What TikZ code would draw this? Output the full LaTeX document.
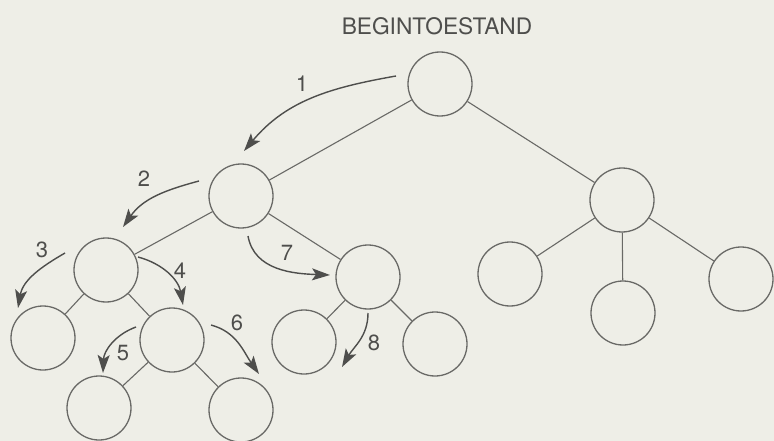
\documentclass[tikz,border=0pt]{standalone}
\usepackage{fontspec}
\setmainfont{TeX Gyre Heros}
\usetikzlibrary{arrows.meta}
\definecolor{paper}{RGB}{238,238,231}
\definecolor{ink}{RGB}{105,105,102}
\definecolor{darkink}{RGB}{78,78,76}
\begin{document}
\begin{tikzpicture}[x=1pt,y=1pt,
  state/.style={circle,draw=ink,line width=1.3pt,minimum size=64pt,inner sep=0pt},
  edge/.style={draw=ink,line width=1.1pt},
  move/.style={draw=darkink,line width=1.4pt,-{Stealth[length=18pt,width=12pt,inset=4pt]}},
  num/.style={text=darkink,font=\fontsize{22}{24}\selectfont,inner sep=0pt}]
\fill[paper] (0,0) rectangle (774,-441);
\useasboundingbox (0,0) rectangle (774,-441);

% title
\node[text=darkink,font=\fontsize{22.7}{25}\selectfont,inner sep=0pt] (title) at (437,-26) {BEGINTOESTAND};

% states of the search tree
\node[state] (root) at (440,-84) {};
\node[state] (l) at (241,-196) {};
\node[state] (r) at (622,-200) {};
\node[state] (a) at (106,-270) {};
\node[state] (b) at (368,-277) {};
\node[state] (r1) at (510,-274) {};
\node[state] (r2) at (623,-313) {};
\node[state] (r3) at (741,-279) {};
\node[state] (a1) at (43,-338) {};
\node[state] (c) at (172,-340) {};
\node[state] (b1) at (304,-342) {};
\node[state] (b2) at (435,-344) {};
\node[state] (c1) at (99,-408) {};
\node[state] (c2) at (241,-410) {};

% tree edges
\draw[edge] (root) -- (l);
\draw[edge] (root) -- (r);
\draw[edge] (l) -- (a);
\draw[edge] (l) -- (b);
\draw[edge] (a) -- (a1);
\draw[edge] (a) -- (c);
\draw[edge] (c) -- (c1);
\draw[edge] (c) -- (c2);
\draw[edge] (b) -- (b1);
\draw[edge] (b) -- (b2);
\draw[edge] (r) -- (r1);
\draw[edge] (r) -- (r2);
\draw[edge] (r) -- (r3);

% end points of the search moves
\coordinate (s1) at (396,-76);  \coordinate (e1) at (244,-151);
\coordinate (s2) at (199,-181); \coordinate (e2) at (123,-227);
\coordinate (s3) at (65,-253);  \coordinate (e3) at (18,-308);
\coordinate (s4) at (138,-257); \coordinate (e4) at (183,-305);
\coordinate (s5) at (136,-327); \coordinate (e5) at (103,-373);
\coordinate (s6) at (211,-325); \coordinate (e6) at (259,-374);
\coordinate (s7) at (248,-236); \coordinate (e7) at (330,-275);
\coordinate (s8) at (368,-313); \coordinate (e8) at (342,-367);

% search order
\draw[move] (s1) to[out=190,in=50] (e1);
\draw[move] (s2) to[out=195,in=55] (e2);
\draw[move] (s3) to[out=210,in=80] (e3);
\draw[move] (s4) to[out=-15,in=100] (e4);
\draw[move] (s5) to[out=200,in=88] (e5);
\draw[move] (s6) to[out=-15,in=125] (e6);
\draw[move] (s7) to[out=-80,in=178] (e7);
\draw[move] (s8) to[out=-90,in=60] (e8);

\node[num] (n1) at (302,-84) {1};
\node[num] (n2) at (144,-179) {2};
\node[num] (n3) at (42,-250) {3};
\node[num] (n4) at (180,-271) {4};
\node[num] (n5) at (123,-353) {5};
\node[num] (n6) at (237,-323) {6};
\node[num] (n7) at (287,-253) {7};
\node[num] (n8) at (374,-343) {8};
\end{tikzpicture}
\end{document}
